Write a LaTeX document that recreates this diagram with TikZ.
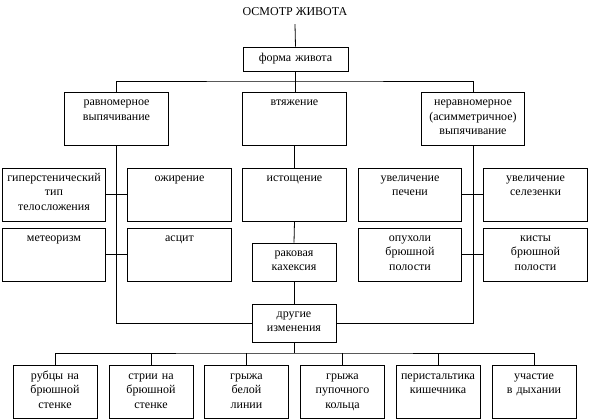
\documentclass[tikz,border=0pt]{standalone}
\usepackage{fontspec}
\setmainfont{Liberation Serif}
\usetikzlibrary{positioning}

\begin{document}
\begin{tikzpicture}[x=1pt, y=-1pt,
    cell/.style={draw, line width=0.8pt, inner sep=0pt, align=center,
                 font=\fontsize{12}{14.5}\selectfont},
    wide/.style={cell, text width=103.5pt, text height=13.5pt, text depth=39.5pt},
    short/.style={cell, text width=84pt, text height=13.5pt, text depth=24.5pt},
    low/.style={cell, text width=84pt, text height=14.5pt, text depth=38.5pt},
    head/.style={cell, text width=105pt, text height=15pt, text depth=9pt},
    link/.style={draw, line width=0.8pt}
  ]
    \useasboundingbox (0,0) rectangle (589,419);

    \node[font=\fontsize{12}{14}\selectfont, anchor=base, inner ysep=8pt,
          text depth=0pt] (title) at (295,16) {ОСМОТР ЖИВОТА};
    \node[head] (forma) at (295.5,59) {форма живота};

    % form of the abdomen
    \node[wide] (ravn)  at (116.5,119) {равномерное\\выпячивание};
    \node[wide] (vtyag) at (294.5,119) {втяжение};
    \node[wide] (nerav) at (473,119)   {неравномерное\\(асимметричное)\\выпячивание};

    \node[wide]  (giper) at (54,194.5)    {гиперстенический\\тип\\телосложения};
    \node[wide]  (ozhir) at (179.5,194.5) {ожирение};
    \node[wide]  (meteo) at (54,254.5)    {метеоризм};
    \node[wide]  (ascit) at (179.5,254.5) {асцит};
    \node[wide]  (istos) at (294.5,194.5) {истощение};
    \node[short] (rakov) at (294,262)     {раковая\\кахексия};
    \node[wide]  (pechen) at (410,194.5)   {увеличение\\печени};
    \node[wide]  (selez)  at (535.5,194.5) {увеличение\\селезенки};
    \node[wide]  (opuh)   at (410,254.5)   {опухоли\\брюшной\\полости};
    \node[wide]  (kisty)  at (535.5,254.5) {кисты\\брюшной\\полости};

    \node[short] (drug) at (294,323) {другие\\изменения};

    % other changes
    \node[low] (rubcy) at (55,391.5)    {рубцы на\\брюшной\\стенке};
    \node[low] (strii) at (151,391.5)   {стрии на\\брюшной\\стенке};
    \node[low] (belaya) at (246.5,391.5) {грыжа\\белой\\линии};
    \node[low] (pupok) at (342.5,391.5) {грыжа\\пупочного\\кольца};
    \node[low] (perist) at (438,391.5)  {перистальтика\\кишечника};
    \node[low] (dyhan) at (534,391.5)   {участие\\в дыхании};

    \coordinate (topbus) at (295,81);
    \coordinate (lowbus) at (294,353);

    \draw[link] (title.south) -- (forma.north);
    \draw[link] (forma.south) -- (vtyag.north -| forma.south);
    \draw[link] (ravn.north) |- (topbus) -| (nerav.north);

    \draw[link] (ravn.south) |- (drug.west);
    \draw[link] (nerav.south) |- (drug.east);
    \draw[link] (vtyag.south) -- (istos.north);
    \draw[link] (istos.south) -- (rakov.north);
    \draw[link] (rakov.south) -- (drug.north);

    \draw[link] (giper.east) -- (ozhir.west);
    \draw[link] (meteo.east) -- (ascit.west);
    \draw[link] (pechen.east) -- (selez.west);
    \draw[link] (opuh.east) -- (kisty.west);

    \draw[link] (drug.south) -- (lowbus);
    \draw[link] (rubcy.north) |- (lowbus) -| (dyhan.north);
    \foreach \b in {strii, belaya, pupok, perist}{
      \draw[link] (\b.north) -- (\b.north |- lowbus);
    }
  \end{tikzpicture}
\end{document}
